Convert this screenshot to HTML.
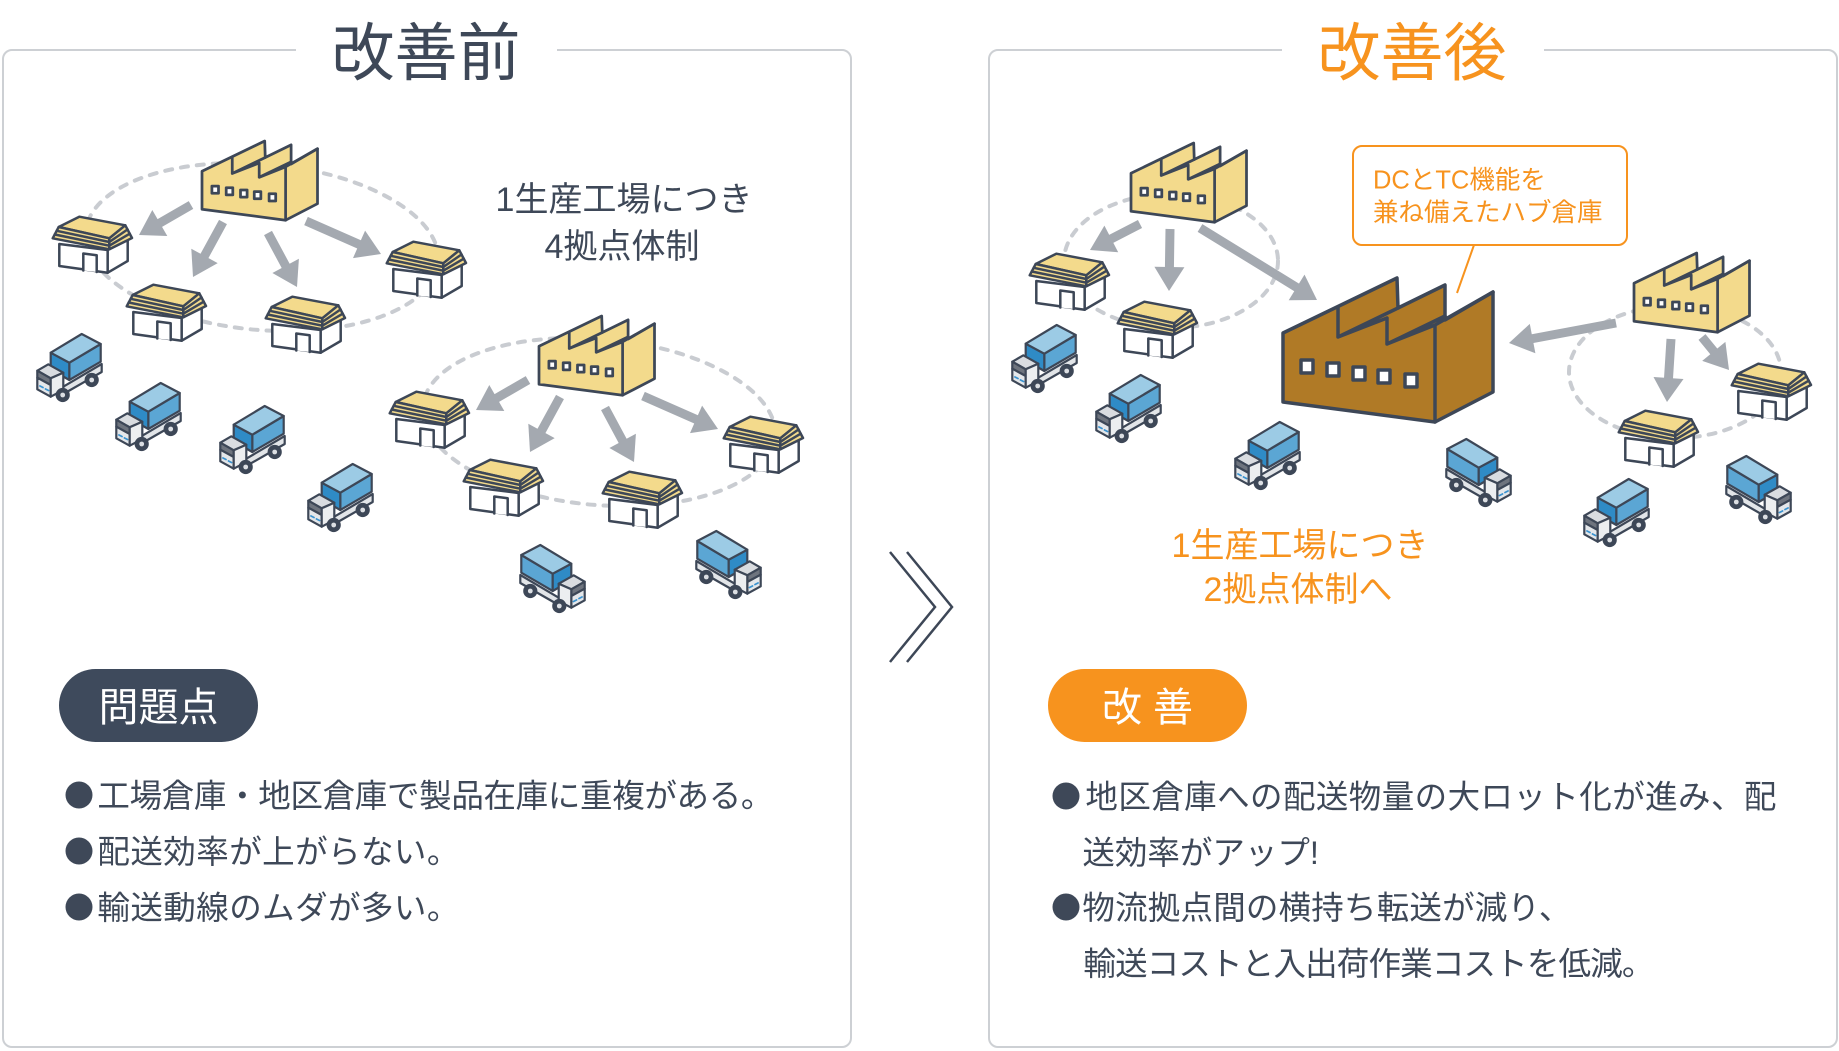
<!DOCTYPE html>
<html>
<head>
<meta charset="utf-8">
<style>
html,body{margin:0;padding:0;background:#fff;}
svg{display:block;}
text{font-family:"Liberation Sans","Noto Sans CJK JP",sans-serif;}
.dash{fill:none;stroke:#c9ccd1;stroke-width:4;stroke-dasharray:7 9;stroke-linecap:round;}
.shaft{stroke:#a4a9b0;stroke-width:9;fill:none;}
.head{fill:#a4a9b0;}
.ol{stroke:#3d4757;stroke-linejoin:round;stroke-linecap:round;}
</style>
</head>
<body>
<svg width="1839" height="1051" viewBox="0 0 1839 1051" xmlns="http://www.w3.org/2000/svg">
<defs>
  <g id="fac">
    <path d="M0,55 L114,0 L115,30 L162,7 L162,42 L210,14 L210,114 L152,144 L0,124 Z"/>
    <path fill="none" d="M55,29 L55,59 L115,30 M55,59 L104,40 M104,40 L104,66 L162,38 M104,66 L152,47 M152,47 L152,144 M152,47 L210,14"/>
    <g fill="#fff">
      <rect x="18" y="82" width="12" height="13"/>
      <rect x="44" y="85" width="12" height="13"/>
      <rect x="70" y="89" width="12" height="13"/>
      <rect x="95" y="92" width="12" height="13"/>
      <rect x="122" y="96" width="12" height="13"/>
    </g>
  </g>
  <g id="yfac" class="ol" fill="#f3da8c" stroke-width="5">
    <use href="#fac"/>
  </g>
  <g id="wh" class="ol" stroke-width="2.5">
    <path fill="#fff" d="M5.3,28 L53.7,34 L53.7,56.7 L5.3,50 Z"/>
    <path fill="#fff" d="M53.7,34 L73.7,24 L73.7,45 L53.7,56.7 Z"/>
    <path fill="#fff" d="M29.3,54.5 L29.3,37.5 L42.7,39.3 L42.7,56"/>
    <path fill="#f3da8c" d="M4.7,11 L25.3,0.7 L71.3,9.3 L55.3,22.3 Z"/>
    <path fill="#f3da8c" d="M4.7,11 L55.3,22.3 L55.3,33.3 L-1.3,22.3 Z"/>
    <path fill="#f3da8c" d="M55.3,22.3 L71.3,9.3 L78,22 L55.3,33.3 Z"/>
    <path fill="none" d="M2.7,14.8 L55.3,26 M0.7,18.5 L55.3,29.7 M55.3,26 L73.5,13.5 M55.3,29.7 L75.7,17.7"/>
  </g>
  <g id="tr" class="ol" stroke-width="2.2">
    <path fill="#e2e5e8" d="M29.3,52.7 L67.7,30 L67.7,38 L29.3,60 Z"/>
    <path fill="#5ba6d4" d="M35.3,28.7 L66.7,10 L66.7,27.7 L35.3,46 Z"/>
    <path fill="#2f8bc6" d="M16.7,18.7 L35.3,28.7 L35.3,46 L16.7,35.3 Z"/>
    <path fill="#9ccbe5" d="M16.7,18.7 L47.7,0 L66.7,10 L35.3,28.7 Z"/>
    <path fill="#d9dce0" d="M3.3,36.7 L14.3,30.3 L29.3,38.7 L16.7,44.3 Z"/>
    <path fill="#6e747e" d="M3.3,36.7 L16.7,44.3 L16.7,51 L3.3,43.7 Z"/>
    <path fill="#e4e7ea" d="M3.3,43.7 L16.7,51 L16.7,62.7 L3.3,55.3 Z"/>
    <path fill="#eceef0" d="M16.7,44.3 L29.3,38.7 L29.3,56 L16.7,62.7 Z"/>
    <path stroke="#3b93d0" stroke-width="1.8" d="M6,52 L9,53.5 M11.5,55 L14.5,56.5"/>
    <circle cx="28.7" cy="61" r="6" fill="#3d4757"/>
    <circle cx="28.7" cy="61" r="2.4" fill="#dcdfe3" stroke="none"/>
    <circle cx="57.7" cy="46" r="6" fill="#3d4757"/>
    <circle cx="57.7" cy="46" r="2.4" fill="#dcdfe3" stroke="none"/>
  </g>
  <g id="cl1">
    <ellipse class="dash" cx="262" cy="247" rx="177" ry="83" transform="rotate(5 262 247)"/>
    <path class="shaft" d="M191,205 L158.1,224 M223,222 L203.5,257.7 M268,233 L286.6,267.6 M306,221 L360.8,245.1"/>
    <polygon class="head" points="139,235 152.3,210 167.3,236"/>
    <polygon class="head" points="193,277 191.3,248.7 217.7,263.1"/>
    <polygon class="head" points="297,287 272.4,273 298.9,258.8"/>
    <polygon class="head" points="381,254 353,258.1 365.1,230.6"/>
    <use href="#wh" transform="translate(54,216)"/>
    <use href="#wh" transform="translate(128,284)"/>
    <use href="#wh" transform="translate(267,296)"/>
    <use href="#wh" transform="translate(388,241)"/>
    <use href="#yfac" transform="translate(202,141) scale(0.55)"/>
  </g>
</defs>

<rect x="3" y="50" width="848" height="997" rx="9" fill="#fff" stroke="#cdd0d4" stroke-width="2"/>
<rect x="989" y="50" width="848" height="997" rx="9" fill="#fff" stroke="#cdd0d4" stroke-width="2"/>
<rect x="296" y="44" width="261" height="12" fill="#fff"/>
<rect x="1282" y="44" width="262" height="12" fill="#fff"/>

<text x="426" y="75" font-size="63" fill="#3e4858" text-anchor="middle">改善前</text>
<text x="1412" y="75" font-size="63" fill="#f7931e" text-anchor="middle">改善後</text>

<use href="#cl1"/>
<use href="#cl1" transform="translate(337,175)"/>

<use href="#tr" transform="translate(34,334)"/>
<use href="#tr" transform="translate(113,383)"/>
<use href="#tr" transform="translate(217,406)"/>
<use href="#tr" transform="translate(305,464)"/>
<use href="#tr" transform="translate(588,545) scale(-1,1)"/>
<use href="#tr" transform="translate(764,531) scale(-1,1)"/>

<text x="624" y="211" font-size="34" fill="#3e4858" text-anchor="middle">1生産工場につき</text>
<text x="622" y="258" font-size="34" fill="#3e4858" text-anchor="middle">4拠点体制</text>

<polyline points="890,552 935,607 890,662" fill="none" stroke="#3d4757" stroke-width="2.5"/>
<polyline points="907,552 952,607 907,662" fill="none" stroke="#3d4757" stroke-width="2.5"/>

<ellipse class="dash" cx="1171" cy="261" rx="107" ry="67"/>
<ellipse class="dash" cx="1675" cy="372" rx="106" ry="66"/>
<path class="shaft" d="M1140,224 L1109.5,239.8 M1170,229 L1169.4,269 M1200,228 L1298.3,288.4 M1616,323 L1530.6,339 M1671,339 L1668.4,380 M1702,337 L1715.1,353"/>
<polygon class="head" points="1090,250 1104.4,225.6 1118.2,252.2"/>
<polygon class="head" points="1169,291 1154.4,266.8 1184.4,267.2"/>
<polygon class="head" points="1317,300 1288.7,300.2 1304.5,274.6"/>
<polygon class="head" points="1509,343 1529.8,323.9 1535.4,353.3"/>
<polygon class="head" points="1667,402 1653.5,377 1683.5,379"/>
<polygon class="head" points="1729,370 1702.2,360.9 1725.4,341.9"/>

<use href="#wh" transform="translate(1031,253)"/>
<use href="#wh" transform="translate(1119,301)"/>
<use href="#wh" transform="translate(1733,363)"/>
<use href="#wh" transform="translate(1620,410)"/>
<use href="#yfac" transform="translate(1131,143) scale(0.55)"/>
<use href="#yfac" transform="translate(1634,253) scale(0.55)"/>

<g class="ol" fill="#b07a26" stroke-width="3.5" transform="translate(1283,278)">
  <use href="#fac"/>
</g>

<use href="#tr" transform="translate(1009,325)"/>
<use href="#tr" transform="translate(1093,375)"/>
<use href="#tr" transform="translate(1232,422)"/>
<use href="#tr" transform="translate(1581,479)"/>
<use href="#tr" transform="translate(1514,439) scale(-1,1)"/>
<use href="#tr" transform="translate(1794,456) scale(-1,1)"/>

<line x1="1474" y1="245" x2="1457" y2="293" stroke="#f7931e" stroke-width="2"/>
<rect x="1353" y="146" width="274" height="99" rx="9" fill="#fff" stroke="#f7931e" stroke-width="2"/>
<text x="1373" y="188.5" font-size="25.5" fill="#f7931e">DCとTC機能を</text>
<text x="1373" y="221" font-size="25.5" fill="#f7931e">兼ね備えたハブ倉庫</text>

<text x="1300" y="557" font-size="34" fill="#f7931e" text-anchor="middle">1生産工場につき</text>
<text x="1298" y="601" font-size="34" fill="#f7931e" text-anchor="middle">2拠点体制へ</text>

<rect x="59" y="669" width="199" height="73" rx="36.5" fill="#3e4a5c"/>
<text x="158.5" y="721" font-size="40" fill="#fff" text-anchor="middle">問題点</text>
<rect x="1048" y="669" width="199" height="73" rx="36.5" fill="#f7931e"/>
<text x="1147.5" y="721" font-size="40" fill="#fff" text-anchor="middle">改 善</text>

<!-- bullet dots -->
<g fill="#3e4858">
  <circle cx="79" cy="795" r="13.5"/>
  <circle cx="79" cy="851" r="13.5"/>
  <circle cx="79" cy="907" r="13.5"/>
  <circle cx="1066" cy="796" r="13.5"/>
  <circle cx="1066" cy="907" r="13.5"/>
</g>
<g font-size="32.5" fill="#3e4858">
  <text x="97.4" y="807" textLength="676" lengthAdjust="spacing">工場倉庫・地区倉庫で製品在庫に重複がある。</text>
  <text x="97.4" y="863" textLength="362" lengthAdjust="spacing">配送効率が上がらない。</text>
  <text x="97.4" y="919" textLength="362" lengthAdjust="spacing">輸送動線のムダが多い。</text>
  <text x="1085.4" y="808" textLength="691" lengthAdjust="spacing">地区倉庫への配送物量の大ロット化が進み、配</text>
  <text x="1082.4" y="864">送効率がアップ!</text>
  <text x="1082.4" y="919" textLength="489" lengthAdjust="spacing">物流拠点間の横持ち転送が減り、</text>
  <text x="1083.4" y="975" textLength="571" lengthAdjust="spacing">輸送コストと入出荷作業コストを低減。</text>
</g>
</svg>
</body>
</html>
